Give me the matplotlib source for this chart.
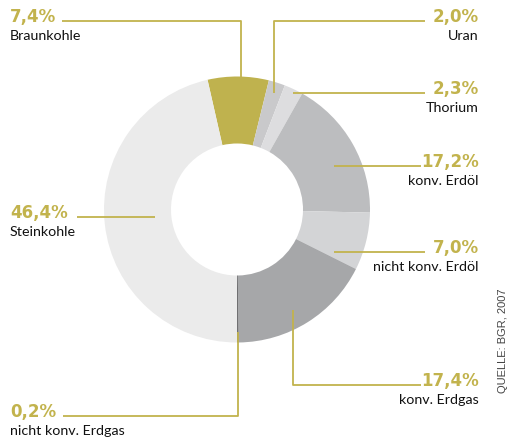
import matplotlib
matplotlib.use("Agg")
import matplotlib.pyplot as plt

# data (Anteile in %)
labels = ["Braunkohle", "Uran", "Thorium", "konv. Erdöl", "nicht konv. Erdöl",
          "konv. Erdgas", "nicht konv. Erdgas", "Steinkohle"]
values = [7.4, 2.0, 2.3, 17.2, 7.0, 17.4, 0.2, 46.4]
colors = ["#BFB24E", "#C9C9CB", "#DDDDDF", "#BCBDBF", "#D3D4D6",
          "#A6A7A9", "#6E6E70", "#EBEBEB"]
source = "QUELLE: BGR, 2007"

gold = "#C2B34D"
H = 441  # pixel height, used to flip y

fig = plt.figure(figsize=(5.09, 4.41), dpi=100)
ax = fig.add_axes([0, 0, 1, 1])

# donut
ax.pie(values, colors=colors, startangle=102.8, counterclock=False,
       center=(237, H - 209.5), radius=133,
       wedgeprops=dict(width=67, edgecolor="none"), frame=True)
ax.set_xlim(0, 509)
ax.set_ylim(0, H)
ax.set_aspect("equal")
ax.axis("off")


def fy(y):
    return H - y


# leader lines (pixel positions, top-down y)
leaders = [
    [(62, 21), (241, 21), (241, 78)],
    [(274, 93), (274, 21), (425, 21)],
    [(293, 93), (425, 93)],
    [(334, 166), (421, 166)],
    [(334, 252), (425, 252)],
    [(293, 310), (293, 385), (421, 385)],
    [(238, 332), (238, 416), (63, 416)],
    [(77, 217), (155, 217)],
]
for pts in leaders:
    ax.plot([p[0] for p in pts], [fy(p[1]) for p in pts],
            color=gold, lw=1.3, solid_capstyle="butt")

# label positions: x, baseline of percent, alignment
label_pos = [
    (10, 22, "left"),
    (479, 22, "right"),
    (479, 94, "right"),
    (479, 167, "right"),
    (479, 253, "right"),
    (479, 386, "right"),
    (10, 417, "left"),
    (10, 218, "left"),
]

for lab, v, (x, y, ha) in zip(labels, values, label_pos):
    pct = f"{v:.1f}".replace(".", ",") + "%"
    ax.text(x, fy(y), pct, ha=ha, va="baseline", color=gold,
            fontsize=12, fontweight="bold", family="DejaVu Sans")
    ax.text(x, fy(y + 18), lab, ha=ha, va="baseline", color="#111111",
            fontsize=10.3, family="Lato")

ax.text(503, fy(341), source, rotation=90, ha="center", va="center",
        color="#444444", fontsize=8, family="Liberation Sans")

fig.savefig("out.png", dpi=100)
